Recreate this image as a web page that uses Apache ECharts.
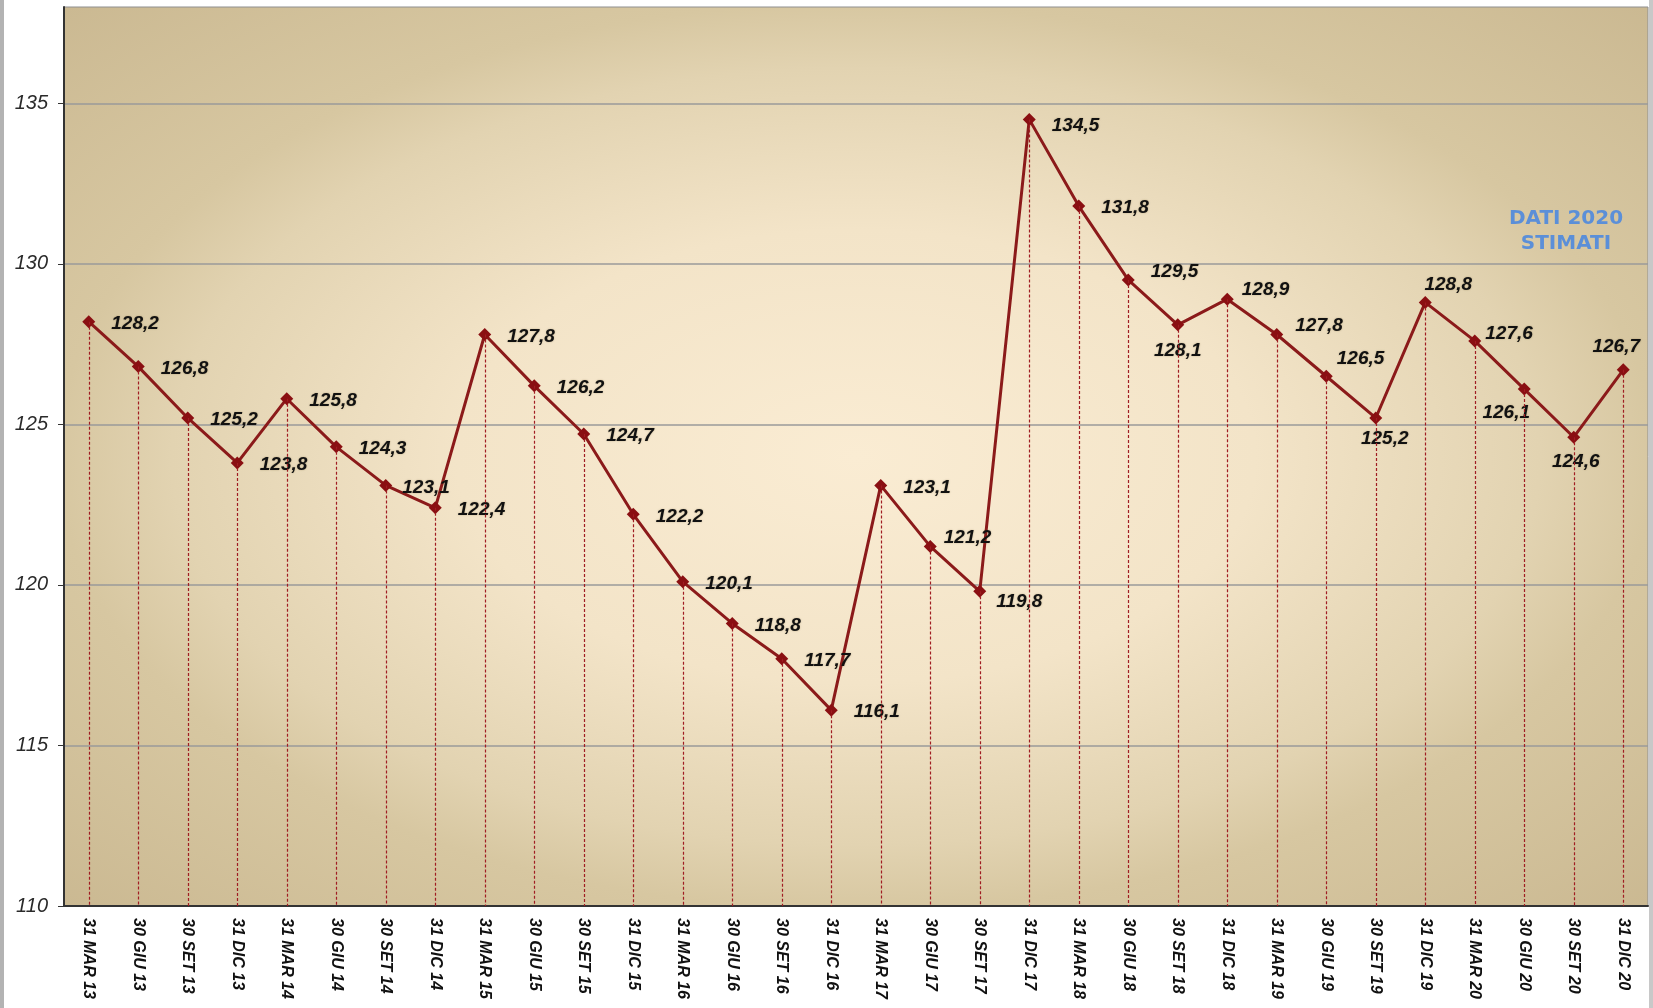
<!DOCTYPE html>
<html>
<head>
<meta charset="utf-8">
<script src="https://cdn.jsdelivr.net/npm/echarts@6/dist/echarts.min.js"></script>
<style>
  html, body { margin: 0; padding: 0; background: #fff; }
  #chart { width: 1653px; height: 1008px; }
</style>
</head>
<body>
<div id="chart"></div>
<script>
// trimestri
const categories = [
  '31 MAR 13', '30 GIU 13', '30 SET 13', '31 DIC 13',
  '31 MAR 14', '30 GIU 14', '30 SET 14', '31 DIC 14',
  '31 MAR 15', '30 GIU 15', '30 SET 15', '31 DIC 15',
  '31 MAR 16', '30 GIU 16', '30 SET 16', '31 DIC 16',
  '31 MAR 17', '30 GIU 17', '30 SET 17', '31 DIC 17',
  '31 MAR 18', '30 GIU 18', '30 SET 18', '31 DIC 18',
  '31 MAR 19', '30 GIU 19', '30 SET 19', '31 DIC 19',
  '31 MAR 20', '30 GIU 20', '30 SET 20', '31 DIC 20'
];

const values = [
  128.2, 126.8, 125.2, 123.8,
  125.8, 124.3, 123.1, 122.4,
  127.8, 126.2, 124.7, 122.2,
  120.1, 118.8, 117.7, 116.1,
  123.1, 121.2, 119.8, 134.5,
  131.8, 129.5, 128.1, 128.9,
  127.8, 126.5, 125.2, 128.8,
  127.6, 126.1, 124.6, 126.7
];

const yTicks = [110, 115, 120, 125, 130, 135];
const note = 'DATI 2020\nSTIMATI';

// posizione etichette spostate a mano (come nell'originale)
const labelPlacement = {
  6: { distance: 10 },
  17: { distance: 7, offset: [0, -9] },
  18: { distance: 10, offset: [0, 10] },
  19: { offset: [0, 6] },
  21: { offset: [0, -8] },
  22: { position: 'bottom', distance: 8 },
  23: { distance: 8, offset: [0, -9] },
  24: { distance: 12, offset: [0, -9] },
  25: { distance: 4, offset: [0, -17] },
  26: { position: 'bottom', distance: 5, offset: [9, 0] },
  27: { position: 'top', distance: 2, offset: [23, 0] },
  28: { distance: 4, offset: [0, -7] },
  29: { position: 'bottom', distance: 8, offset: [-18, 0] },
  30: { position: 'bottom', distance: 9, offset: [2, 0] },
  31: { position: 'top', distance: 7, offset: [-7, 0] }
};

const chart = echarts.init(document.getElementById('chart'));

const fmt = v => v.toFixed(1).replace('.', ',');

const seriesData = values.map((v, i) => {
  const p = labelPlacement[i];
  if (!p) return v;
  return { value: v, label: Object.assign({ position: 'right' }, p) };
});

// linee tratteggiate verticali dai punti all'asse
const dropLines = values.map((v, i) => [
  { coord: [categories[i], v] },
  { coord: [categories[i], yTicks[0]] }
]);

const option = {
  backgroundColor: '#ffffff',
  animation: false,
  graphic: [
    {
      type: 'rect',
      z: -10,
      x: 64, y: 7,
      scaleY: 899 / 1584,
      shape: { x: 0, y: 0, width: 1584, height: 1584 },
      style: {
        fill: new echarts.graphic.RadialGradient(0.5, 0.5, 0.72, [
          { offset: 0, color: '#faecd3' },
          { offset: 0.35, color: '#f3e4c8' },
          { offset: 0.6, color: '#e2d3b1' },
          { offset: 0.7, color: '#d7c7a1' },
          { offset: 1, color: '#cab891' }
        ])
      }
    },
    { type: 'rect', z: -10, x: 0, y: 0, shape: { width: 4, height: 1008 }, style: { fill: '#b3b3b3' } },
    { type: 'rect', z: -10, x: 1649, y: 0, shape: { width: 4, height: 1008 }, style: { fill: '#c8c8c8' } },
    {
      type: 'text',
      x: 1566, y: 206,
      style: {
        text: note,
        textAlign: 'center',
        fill: '#5b8fd8',
        font: 'bold 20px "DejaVu Sans"',
        lineHeight: 25
      }
    }
  ],
  grid: {
    left: 64, right: 5, top: 7, bottom: 102,
    show: true,
    backgroundColor: 'transparent',
    borderColor: '#8f8f8f',
    borderWidth: 1
  },
  xAxis: {
    type: 'category',
    data: categories,
    boundaryGap: true,
    axisLine: { lineStyle: { color: '#333', width: 2 } },
    axisTick: { show: false },
    axisLabel: {
      rotate: -90,
      interval: 0,
      margin: 12,
      color: '#111',
      fontFamily: 'Liberation Sans',
      fontWeight: 'bold',
      fontStyle: 'italic',
      fontSize: 16
    }
  },
  yAxis: {
    type: 'value',
    min: 110,
    max: 138,
    interval: 5,
    axisLine: { show: true, lineStyle: { color: '#333', width: 2 } },
    axisTick: { show: true, length: 6, customValues: yTicks, lineStyle: { color: '#333' } },
    axisLabel: {
      customValues: yTicks,
      margin: 16,
      color: '#2a2a2a',
      fontFamily: 'Liberation Sans',
      fontStyle: 'italic',
      fontSize: 20
    },
    splitLine: { lineStyle: { color: '#9a9a9a', width: 1.5 } }
  },
  series: [{
    type: 'line',
    data: seriesData,
    symbol: 'diamond',
    symbolSize: 13,
    itemStyle: { color: '#8a0f12' },
    lineStyle: { color: '#8b1a1a', width: 3 },
    label: {
      show: true,
      position: 'right',
      distance: 16,
      offset: [0, 2],
      formatter: p => fmt(p.value),
      color: '#111',
      fontFamily: 'Liberation Sans',
      fontWeight: 'bold',
      fontStyle: 'italic',
      fontSize: 19,
      textShadowColor: 'rgba(90, 70, 20, 0.35)',
      textShadowBlur: 2
    },
    markLine: {
      silent: true,
      symbol: ['none', 'none'],
      label: { show: false },
      lineStyle: { color: '#a01c22', width: 1.2, type: [3, 2] },
      emphasis: { disabled: true },
      data: dropLines
    }
  }]
};

chart.setOption(option);
</script>
</body>
</html>
